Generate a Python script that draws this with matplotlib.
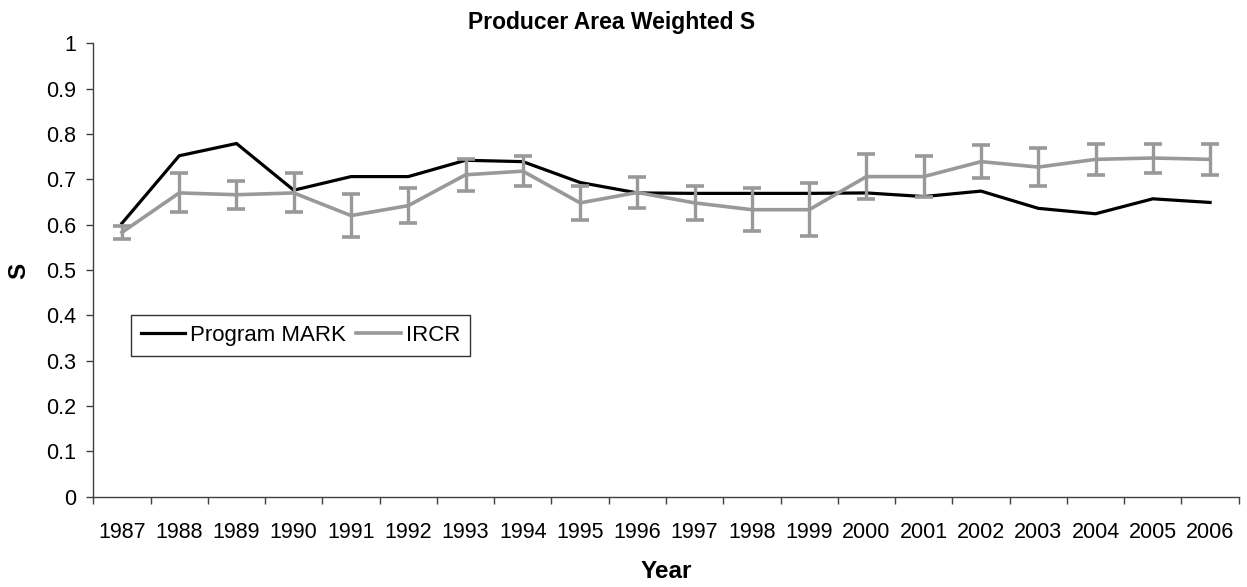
import matplotlib
matplotlib.use("Agg")
import matplotlib.pyplot as plt
from matplotlib.lines import Line2D
import numpy as np

plt.rcParams['font.family'] = ['Liberation Sans', 'DejaVu Sans']

years = [str(y) for y in range(1987, 2007)]
mark = [0.603, 0.752, 0.779, 0.676, 0.706, 0.706, 0.742, 0.739, 0.693, 0.670,
        0.669, 0.669, 0.669, 0.670, 0.662, 0.674, 0.636, 0.624, 0.657, 0.649]
ircr = [0.583, 0.670, 0.666, 0.670, 0.620, 0.642, 0.710, 0.718, 0.648, 0.671,
        0.648, 0.633, 0.633, 0.706, 0.706, 0.739, 0.727, 0.744, 0.747, 0.744]
ircr_err = [0.014, 0.043, 0.031, 0.043, 0.047, 0.039, 0.035, 0.033, 0.038, 0.035,
            0.038, 0.047, 0.058, 0.050, 0.045, 0.037, 0.041, 0.034, 0.032, 0.034]
yticks = [0, 0.1, 0.2, 0.3, 0.4, 0.5, 0.6, 0.7, 0.8, 0.9, 1]
ytick_labels = ['0', '0.1', '0.2', '0.3', '0.4', '0.5', '0.6', '0.7', '0.8', '0.9', '1']

W, H, DPI = 1247, 587, 100
fig = plt.figure(figsize=(W / DPI, H / DPI), dpi=DPI)
ax_l, ax_r, ax_b, ax_t = 93.3, 1238.7, 496.7, 43.3
ax = fig.add_axes([ax_l / W, 1 - ax_b / H, (ax_r - ax_l) / W, (ax_b - ax_t) / H])

x = np.arange(len(years))
gray = '#999999'
ax.plot(x, mark, color='black', lw=2.3, label='Program MARK', zorder=3)
ax.errorbar(x, ircr, yerr=ircr_err, color=gray, lw=2.6, elinewidth=2.4,
            capsize=6.5, capthick=2.6, label='IRCR', zorder=4)

ax.set_xlim(-0.5, len(years) - 0.5)
ax.set_ylim(0, 1)
ax.set_yticks(yticks)
ax.set_yticklabels(ytick_labels)
ax.set_xticks(x)
ax.set_xticklabels(years)
ax.set_xticks(np.arange(-0.5, len(years)), minor=True)
ax.tick_params(axis='x', which='major', length=0, pad=18.5, labelsize=15.5)
ax.tick_params(axis='x', which='minor', length=5, width=1, color='#404040',
               direction='out')
ax.tick_params(axis='y', length=4.8, width=1, color='#404040', direction='out',
               labelsize=15.5, pad=7.5)

for side in ('top', 'right'):
    ax.spines[side].set_visible(False)
for side in ('left', 'bottom'):
    ax.spines[side].set_color('#404040')
    ax.spines[side].set_linewidth(1)

fig.text(612 / W, 1 - 22 / H, 'Producer Area Weighted S', ha='center', va='center',
         fontsize=16.5, fontweight='bold')
fig.text(19 / W, 1 - 271 / H, 'S', ha='center', va='center', rotation=90,
         fontsize=17.5, fontweight='bold')
fig.text(666 / W, 1 - 572 / H, 'Year', ha='center', va='center',
         fontsize=17.5, fontweight='bold')

labels = ['Program MARK', 'IRCR']
handles = [Line2D([], [], color='black', lw=2.3), Line2D([], [], color=gray, lw=2.6)]
leg = ax.legend(handles, labels, ncol=2, loc='upper left',
                bbox_to_anchor=((131 - ax_l) / (ax_r - ax_l), (ax_b - 315) / (ax_b - ax_t)),
                frameon=True, fancybox=False, edgecolor='black', fontsize=16,
                handlelength=2.0, handletextpad=0.22, columnspacing=0.45,
                borderpad=0.45, borderaxespad=0)
leg.get_frame().set_linewidth(1)

fig.savefig('out.png', dpi=DPI, facecolor='white')
